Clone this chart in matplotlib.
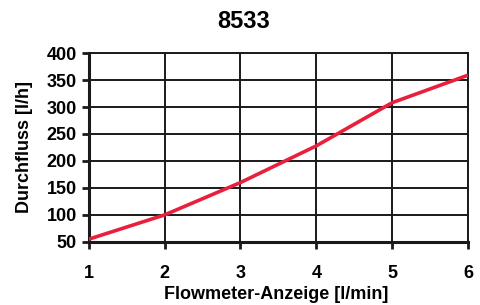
import matplotlib
matplotlib.use('Agg')
from matplotlib import pyplot as plt

# Flowmeter 8533: Anzeige vs. Durchfluss
anzeige = [1, 2, 3, 4, 5, 6]
durchfluss = [55, 100, 160, 228, 308, 359]
y_ticks = [50, 100, 150, 200, 250, 300, 350, 400]

plt.rcParams['font.family'] = ['Liberation Sans', 'DejaVu Sans']
plt.rcParams['font.weight'] = 'bold'

fig = plt.figure(figsize=(4.8, 3.05), dpi=100)
ax = fig.add_axes([0.185, 0.207, 0.79, 0.619])

ax.plot(anzeige, durchfluss, color='#e8203c', linewidth=2.6, zorder=3,
        solid_capstyle='butt')

ax.set_xlim(1, 6)
ax.set_ylim(50, 400)
ax.set_xticks(anzeige)
ax.set_yticks(y_ticks)
ax.grid(True, color='#1a1a1a', linewidth=1.4)
for s in ax.spines.values():
    s.set_color('#1a1a1a')
    s.set_linewidth(1.4)
ax.spines['left'].set_linewidth(2.2)
ax.spines['bottom'].set_linewidth(2.2)
ax.tick_params(axis='both', labelsize=13, width=2, length=5, color='#1a1a1a')
ax.tick_params(axis='x', pad=12)

ax.set_ylabel('Durchfluss [l/h]', fontsize=13, fontweight='bold', labelpad=10)
# x label sits tight against the bottom edge, as in the original
fig.text(0.575, 0.035, 'Flowmeter-Anzeige [l/min]', ha='center', va='center',
         fontsize=13, fontweight='bold')
fig.text(0.507, 0.931, '8533', ha='center', va='center', fontsize=17, fontweight='bold')

plt.savefig('out.png', dpi=100)
